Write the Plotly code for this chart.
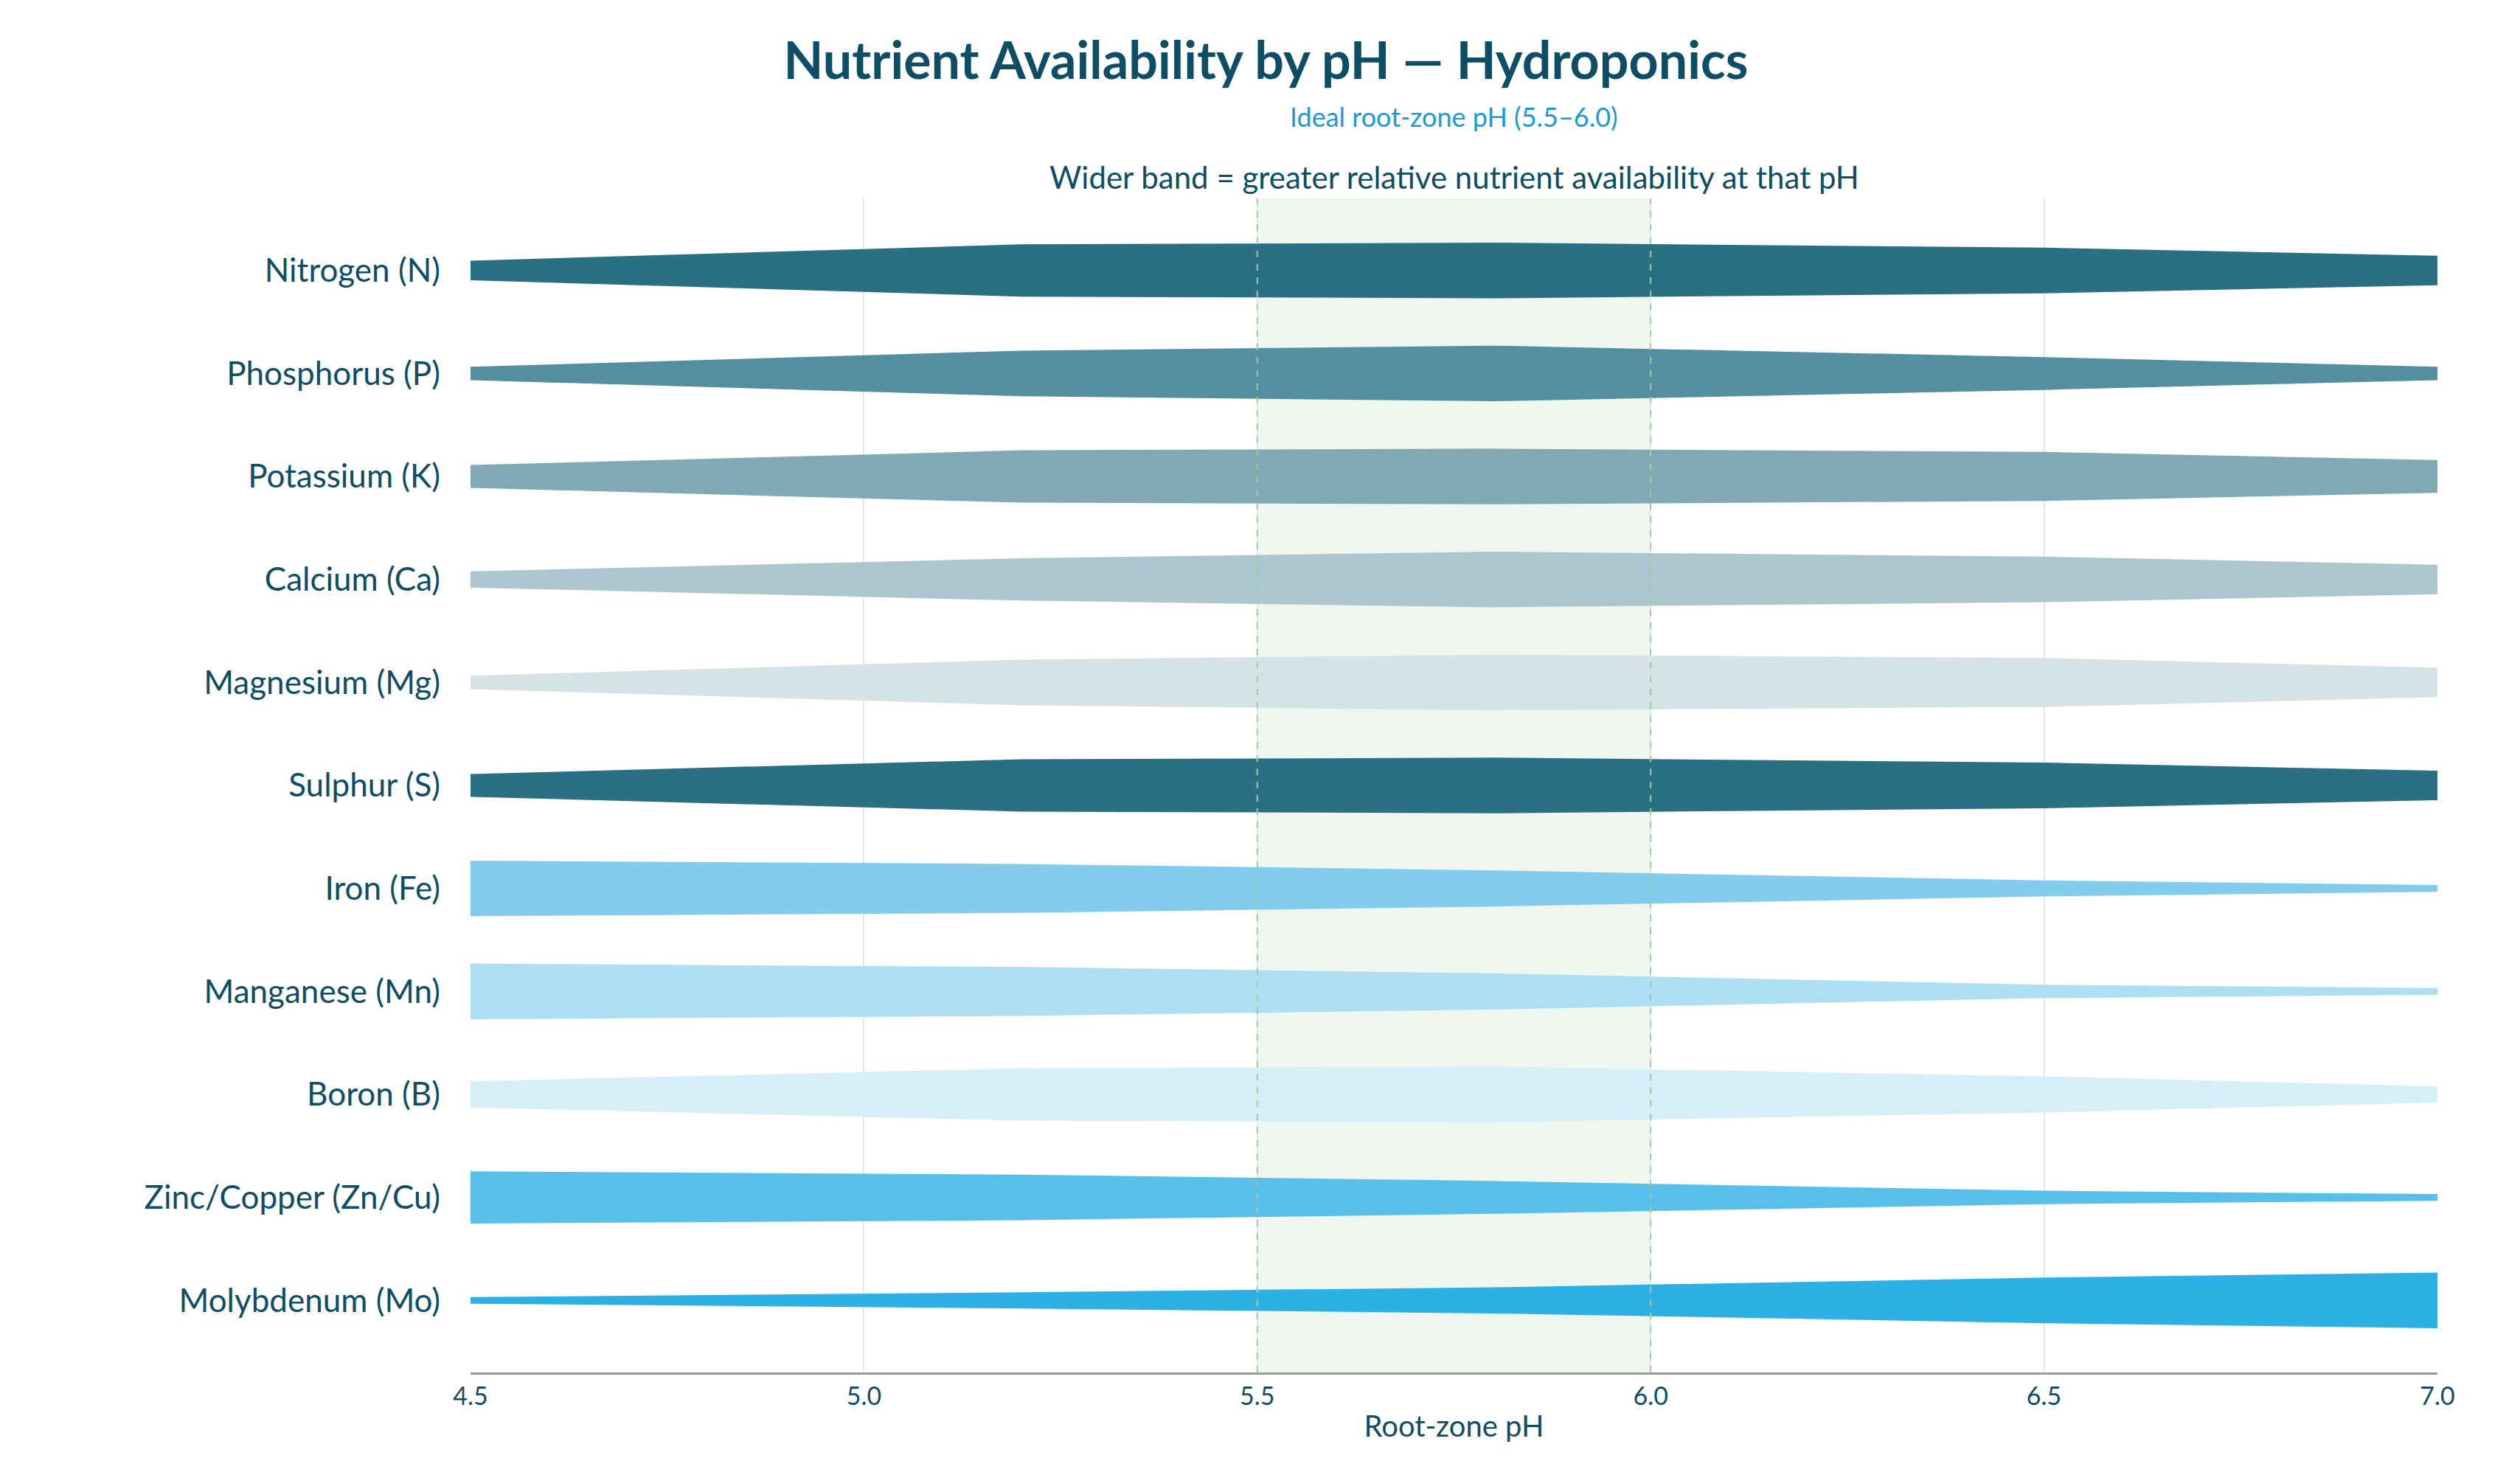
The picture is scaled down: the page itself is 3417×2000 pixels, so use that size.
import plotly.graph_objects as go

nutrients = ["Nitrogen (N)", "Phosphorus (P)", "Potassium (K)", "Calcium (Ca)", "Magnesium (Mg)",
             "Sulphur (S)", "Iron (Fe)", "Manganese (Mn)", "Boron (B)", "Zinc/Copper (Zn/Cu)", "Molybdenum (Mo)"]
ph_points = [4.5, 5.2, 5.8, 6.5, 7.0]
availability = {
    "Nitrogen (N)":        [0.35, 0.94, 1.00, 0.82, 0.53],
    "Phosphorus (P)":      [0.24, 0.82, 1.00, 0.59, 0.24],
    "Potassium (K)":       [0.41, 0.94, 1.00, 0.88, 0.59],
    "Calcium (Ca)":        [0.29, 0.76, 1.00, 0.82, 0.53],
    "Magnesium (Mg)":      [0.24, 0.82, 1.00, 0.88, 0.53],
    "Sulphur (S)":         [0.41, 0.94, 1.00, 0.82, 0.53],
    "Iron (Fe)":           [1.00, 0.88, 0.65, 0.29, 0.12],
    "Manganese (Mn)":      [1.00, 0.88, 0.65, 0.24, 0.12],
    "Boron (B)":           [0.47, 0.94, 1.00, 0.65, 0.29],
    "Zinc/Copper (Zn/Cu)": [0.94, 0.82, 0.59, 0.24, 0.12],
    "Molybdenum (Mo)":     [0.12, 0.29, 0.47, 0.82, 1.00],
}
colors = ["#236a80", "#4e8a9e", "#7ca6b4", "#a8c4cc", "#d4e1e5", "#236a80",
          "#7ecbec", "#a9def2", "#d4edf8", "#52bde8", "#26aee3"]
ideal = [5.5, 6.0]

fig = go.Figure()
n = len(nutrients)
half = 0.27
for i, name in enumerate(nutrients):
    yc = n - 1 - i
    v = availability[name]
    xs = ph_points + ph_points[::-1]
    ys = [yc + a * half for a in v] + [yc - a * half for a in v[::-1]]
    fig.add_trace(go.Scatter(x=xs, y=ys, fill="toself", mode="lines", line=dict(width=0),
                             fillcolor=colors[i], opacity=0.97, name=name, showlegend=False,
                             hoverinfo="name"))

fig.add_vrect(x0=ideal[0], x1=ideal[1], fillcolor="#e4f0e6", opacity=0.6, line_width=0, layer="below")
for xv in ideal:
    fig.add_vline(x=xv, line=dict(color="#9ccba4", width=2, dash="dash"))

fig.add_annotation(x=(ideal[0] + ideal[1]) / 2 + 0.0, y=1.085, xref="x", yref="paper",
                   text="Ideal root-zone pH (5.5–6.0)", showarrow=False,
                   font=dict(size=36, color="#1a9ad6", family="Lato"))
fig.add_annotation(x=0.5, y=1.035, xref="paper", yref="paper",
                   text="Wider band = greater relative nutrient availability at that pH", showarrow=False,
                   font=dict(size=42, color="#0d4d66", family="Lato"))

fig.update_layout(
    width=3417, height=2000, plot_bgcolor="white", paper_bgcolor="white",
    margin=dict(l=630, r=120, t=261, b=147),
    title=dict(text="<b>Nutrient Availability by pH — Hydroponics</b>", x=0.5, y=0.975,
               font=dict(size=70, color="#0d4d66", family="Lato")),
    xaxis=dict(range=[4.5, 7.0], tickvals=[4.5, 5.0, 5.5, 6.0, 6.5, 7.0],
               ticktext=["4.5", "5.0", "5.5", "6.0", "6.5", "7.0"],
               showgrid=True, gridcolor="#e6e6e6", gridwidth=2, zeroline=False,
               showline=True, linecolor="#999999", linewidth=3,
               title=dict(text="Root-zone pH", font=dict(size=40, color="#0d4d66", family="Lato"), standoff=10),
               tickfont=dict(size=34, color="#0d4d66", family="Lato")),
    yaxis=dict(range=[-0.7, n - 0.3], tickvals=list(range(n)), ticktext=nutrients[::-1],
               showgrid=False, zeroline=False, ticks="", ticklabelstandoff=40,
               tickfont=dict(size=44, color="#0d4d66", family="Lato")),
)
fig.write_html("out.html")
